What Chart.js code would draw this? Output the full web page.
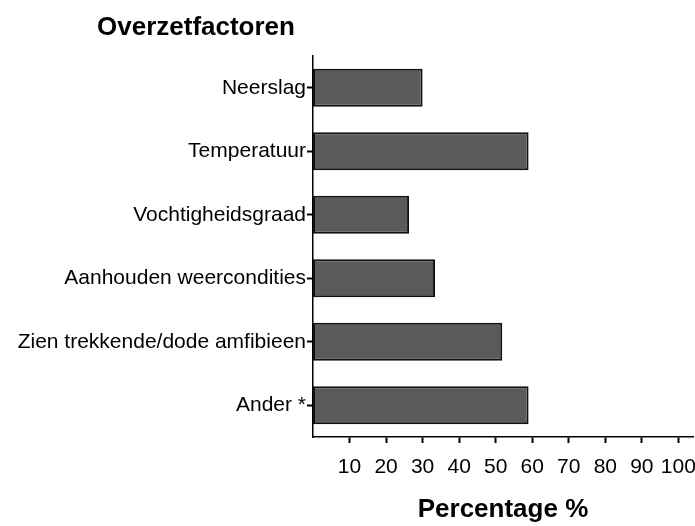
<!DOCTYPE html>
<html>
<head>
<meta charset="utf-8">
<script src="https://cdn.jsdelivr.net/npm/chart.js@4.4.1/dist/chart.umd.min.js"></script>
<style>
  html, body { margin: 0; padding: 0; background: #fff; }
  #wrap { width: 695px; height: 526px; position: relative; }
</style>
</head>
<body>
<div id="wrap"><canvas id="myChart"></canvas></div>
<script>
const categories = ['Neerslag', 'Temperatuur', 'Vochtigheidsgraad', 'Aanhouden weercondities', 'Zien trekkende/dode amfibieen', 'Ander *'];
const percentages = [30, 59, 26.3, 33.4, 51.8, 59];
const xTicks = [10, 20, 30, 40, 50, 60, 70, 80, 90, 100];

const chartTitle = 'Overzetfactoren';
const xTitle = 'Percentage %';

// small dithered fill like the original bars
function makePattern() {
    const c = document.createElement('canvas');
    c.width = 2;
    c.height = 2;
    const g = c.getContext('2d');
    g.fillStyle = '#525252';
    g.fillRect(0, 0, 2, 2);
    g.fillStyle = '#626262';
    g.fillRect(0, 0, 1, 1);
    g.fillRect(1, 1, 1, 1);
    return g.createPattern(c, 'repeat');
}

const titlePlugin = {
    id: 'leftTitle',
    afterDraw(chart) {
        const c = chart.ctx;
        c.save();
        c.fillStyle = '#000';
        c.font = 'bold 26px "Liberation Sans", Arial, sans-serif';
        c.textBaseline = 'middle';
        c.textAlign = 'left';
        c.fillText(chartTitle, 97, 28);
        c.restore();
    }
};

const ctx = document.getElementById('myChart').getContext('2d');

const chart = new Chart(ctx, {
    type: 'bar',
    data: {
        labels: categories,
        datasets: [
            {
                data: percentages,
                backgroundColor: makePattern(),
                borderColor: '#111111',
                borderWidth: 2,
                borderSkipped: false,
                barPercentage: 0.6,
                categoryPercentage: 1
            }
        ]
    },
    options: {
        indexAxis: 'y',
        responsive: true,
        maintainAspectRatio: false,
        animation: false,
        layout: {
            padding: { top: 56, right: 2, left: 0, bottom: 0 }
        },
        scales: {
            x: {
                min: 0,
                max: 104,
                afterBuildTicks: (scale) => {
                    scale.ticks = xTicks.map(v => ({ value: v }));
                },
                afterFit: (scale) => {
                    scale.height = 89;
                    scale.paddingRight = 0;
                    scale.paddingLeft = 0;
                },
                grid: {
                    drawOnChartArea: false,
                    drawTicks: true,
                    tickLength: 6,
                    tickWidth: 2,
                    tickColor: '#000'
                },
                border: { display: true, color: '#000', width: 1.5 },
                ticks: {
                    color: '#000',
                    padding: 12,
                    autoSkip: false,
                    maxRotation: 0,
                    font: { family: '"Liberation Sans", Arial, sans-serif', size: 21 }
                },
                title: {
                    display: true,
                    text: xTitle,
                    color: '#000',
                    padding: { top: 0, bottom: 1 },
                    font: { family: '"Liberation Sans", Arial, sans-serif', size: 26, weight: 'bold' }
                }
            },
            y: {
                afterFit: (scale) => {
                    scale.width = 313;
                    scale.paddingTop = 0;
                    scale.paddingBottom = 0;
                },
                grid: {
                    offset: false,
                    drawOnChartArea: false,
                    drawTicks: true,
                    tickLength: 6,
                    tickWidth: 2,
                    tickColor: '#000'
                },
                border: { display: true, color: '#000', width: 1.5 },
                ticks: {
                    color: '#000',
                    padding: 1,
                    font: { family: '"Liberation Sans", Arial, sans-serif', size: 21 }
                }
            }
        },
        plugins: {
            legend: { display: false },
            tooltip: { enabled: false },
            title: { display: false }
        }
    },
    plugins: [titlePlugin]
});
</script>
</body>
</html>
